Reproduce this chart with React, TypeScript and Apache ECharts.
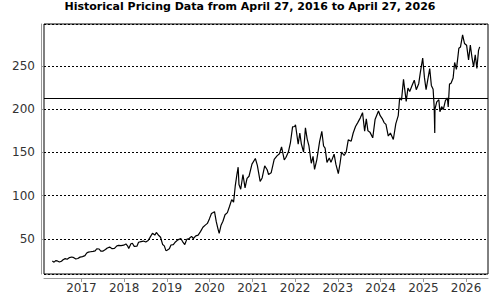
import React, { useEffect, useRef } from "react";
import * as echarts from "echarts";

const TITLE = "Historical Pricing Data from April 27, 2016 to April 27, 2026";

const dates: string[] = [
  "2016-04-27","2016-05-12","2016-05-26","2016-06-09","2016-06-27","2016-07-14","2016-07-28","2016-08-15","2016-09-01","2016-09-21",
  "2016-10-10","2016-10-28","2016-11-14","2016-12-01","2016-12-20","2017-01-10","2017-01-31","2017-02-15","2017-03-01","2017-03-20",
  "2017-04-10","2017-04-28","2017-05-12","2017-06-01","2017-06-15","2017-07-05","2017-07-25","2017-08-10","2017-08-30","2017-09-20",
  "2017-10-10","2017-10-31","2017-11-15","2017-12-05","2017-12-28","2018-01-16","2018-01-31","2018-02-09","2018-02-28","2018-03-12",
  "2018-03-28","2018-04-20","2018-05-04","2018-05-25","2018-06-15","2018-07-05","2018-07-25","2018-08-10","2018-08-31","2018-09-20",
  "2018-10-03","2018-10-24","2018-11-08","2018-11-26","2018-12-10","2018-12-24","2019-01-03","2019-01-22","2019-02-05","2019-02-25",
  "2019-03-15","2019-04-05","2019-04-30","2019-05-15","2019-06-03","2019-06-20","2019-07-10","2019-07-31","2019-08-15","2019-09-05",
  "2019-09-25","2019-10-15","2019-11-05","2019-11-25","2019-12-13","2019-12-31","2020-01-17","2020-02-12","2020-02-27","2020-03-12",
  "2020-03-23","2020-04-07","2020-04-24","2020-05-12","2020-06-01","2020-06-19","2020-07-08","2020-07-24","2020-08-07","2020-08-21",
  "2020-09-01","2020-09-08","2020-09-23","2020-10-12","2020-10-30","2020-11-16","2020-12-03","2020-12-28","2021-01-26","2021-02-12",
  "2021-03-08","2021-03-25","2021-04-16","2021-05-07","2021-05-19","2021-06-10","2021-07-06","2021-07-30","2021-08-20","2021-09-07",
  "2021-09-30","2021-10-15","2021-11-04","2021-11-22","2021-12-10","2021-12-28","2022-01-04","2022-01-27","2022-02-10","2022-02-23",
  "2022-03-14","2022-03-30","2022-04-14","2022-04-29","2022-05-19","2022-06-03","2022-06-16","2022-07-05","2022-07-29","2022-08-17",
  "2022-09-01","2022-09-14","2022-09-30","2022-10-20","2022-11-03","2022-11-30","2022-12-15","2023-01-05","2023-01-20","2023-02-02",
  "2023-02-24","2023-03-13","2023-03-31","2023-04-25","2023-05-12","2023-06-01","2023-06-20","2023-07-12","2023-07-31","2023-08-18",
  "2023-09-01","2023-09-15","2023-10-02","2023-10-26","2023-11-15","2023-12-14","2023-12-29","2024-01-18","2024-01-31","2024-02-16",
  "2024-03-07","2024-03-25","2024-04-19","2024-05-10","2024-05-31","2024-06-12","2024-06-28","2024-07-15","2024-08-07","2024-08-22",
  "2024-09-06","2024-09-26","2024-10-15","2024-11-01","2024-11-22","2024-12-06","2024-12-26","2025-01-10","2025-01-24","2025-02-06",
  "2025-02-24","2025-03-10","2025-03-25","2025-04-03","2025-04-08","2025-04-10","2025-04-25","2025-05-13","2025-05-22","2025-06-06",
  "2025-06-20","2025-07-08","2025-07-25","2025-08-01","2025-08-12","2025-08-25","2025-09-12","2025-09-25","2025-10-10","2025-10-24",
  "2025-10-31","2025-11-14","2025-12-02","2025-12-18","2026-01-05","2026-01-22","2026-02-06","2026-02-20","2026-03-06","2026-03-20",
  "2026-04-03","2026-04-17","2026-04-27",
];

const prices: number[] = [
  24.6,23.2,25.0,24.6,23.4,24.3,26.0,27.3,26.6,28.5,
  29.2,28.4,26.8,27.4,29.0,29.6,30.8,33.8,34.8,35.2,
  35.6,36.2,38.7,38.4,36.0,36.0,37.8,39.6,40.6,38.8,
  39.2,42.0,42.6,42.4,42.8,44.2,41.8,39.0,44.5,45.0,
  41.5,41.6,46.2,47.0,47.6,46.5,48.2,51.8,56.6,54.5,
  57.5,54.0,52.0,43.5,42.0,36.5,37.0,38.6,43.0,43.5,
  46.5,49.0,50.5,47.0,43.5,49.5,50.5,53.0,50.5,53.5,
  54.5,58.5,63.5,66.0,68.0,73.5,79.5,81.5,70.0,62.0,
  56.5,65.5,70.5,78.0,80.5,87.5,95.5,92.5,111.0,124.0,
  133.0,113.0,107.5,124.5,109.0,120.0,122.5,136.5,143.0,135.0,
  116.5,120.5,134.5,130.0,124.5,126.5,142.0,146.0,148.5,156.5,
  141.5,144.5,150.5,161.5,179.5,180.0,182.0,159.5,172.5,160.0,
  150.5,178.5,165.5,157.5,137.5,145.5,130.5,141.5,162.5,174.5,
  157.5,155.0,138.5,143.5,138.5,148.0,136.5,125.5,137.5,150.5,
  146.5,150.5,164.5,163.0,172.5,180.0,184.5,190.0,196.0,174.5,
  189.0,175.0,173.5,166.9,188.0,198.0,192.5,188.5,184.5,182.5,
  169.0,172.5,165.0,183.0,192.5,213.0,210.5,234.5,209.0,224.5,
  220.5,227.5,233.5,222.5,229.5,242.5,259.0,236.5,222.5,233.0,
  247.0,227.5,223.0,203.0,172.5,200.0,208.5,211.0,197.0,203.0,
  199.5,210.0,213.0,202.5,229.0,230.0,236.0,254.0,246.0,262.0,
  270.5,272.0,286.0,276.0,274.0,257.0,274.0,260.0,249.0,263.0,
  247.0,268.0,272.0,
];

const referenceLevel = 212.7;
const yearTicks: number[] = [2017, 2018, 2019, 2020, 2021, 2022, 2023, 2024, 2025, 2026];
const xMin = "2016-02-16";
const xMax = "2026-07-07";
const yMin = 9.5;
const yMax = 298.5;

const FONT = "DejaVu Sans";

function toTime(s: string): number {
  const [y, m, d] = s.split("-").map(Number);
  return new Date(y, m - 1, d).getTime();
}

export default function App() {
  const ref = useRef<HTMLDivElement>(null);
  useEffect(() => {
    if (!ref.current) return;
    const chart = echarts.init(ref.current, null, { renderer: "svg" });
    const yearStamps = yearTicks.map((y) => new Date(y, 0, 1).getTime());
    chart.setOption({
      animation: false,
      backgroundColor: "#fff",
      title: {
        text: TITLE,
        left: "center",
        top: 1,
        padding: 0,
        textStyle: { fontFamily: FONT, fontSize: 11, fontWeight: "bold", color: "#000" },
      },
      grid: {
        left: 44,
        right: 12,
        top: 24,
        bottom: 26,
        show: true,
        borderColor: "#000",
        borderWidth: 1,
        backgroundColor: "#fff",
      },
      xAxis: {
        type: "value",
        min: toTime(xMin),
        max: toTime(xMax),
        offset: 4,
        axisLine: { show: true, lineStyle: { color: "#999", width: 1 } },
        axisTick: { show: true, length: 4, lineStyle: { color: "#999" }, customValues: yearStamps },
        axisLabel: {
          customValues: yearStamps,
          formatter: (v: number) => String(new Date(v).getFullYear()),
          fontFamily: FONT,
          fontSize: 12,
          color: "#333",
          margin: 4,
        },
        splitLine: { show: false },
      },
      yAxis: {
        type: "value",
        min: yMin,
        max: yMax,
        splitNumber: 5,
        offset: 3,
        axisLine: { show: true, lineStyle: { color: "#999", width: 1 } },
        axisTick: { show: true, inside: true, length: 2, lineStyle: { color: "#999" } },
        axisLabel: {
          fontFamily: FONT,
          fontSize: 12,
          color: "#333",
          margin: 6,
          showMinLabel: false,
          showMaxLabel: false,
        },
        splitLine: { show: true, lineStyle: { color: "#000", type: [2, 2], width: 1 } },
      },
      series: [
        {
          type: "line",
          data: dates.map((d, i) => [toTime(d), prices[i]]),
          showSymbol: false,
          symbol: "none",
          lineStyle: { color: "#000", width: 1.2 },
          markLine: {
            silent: true,
            symbol: "none",
            label: { show: false },
            lineStyle: { color: "#000", type: "solid", width: 1 },
            data: [{ yAxis: referenceLevel }],
          },
        },
      ],
    });
    return () => chart.dispose();
  }, []);
  return <div ref={ref} style={{ position: "absolute", left: 0, top: 0, width: 500, height: 300 }} />;
}
